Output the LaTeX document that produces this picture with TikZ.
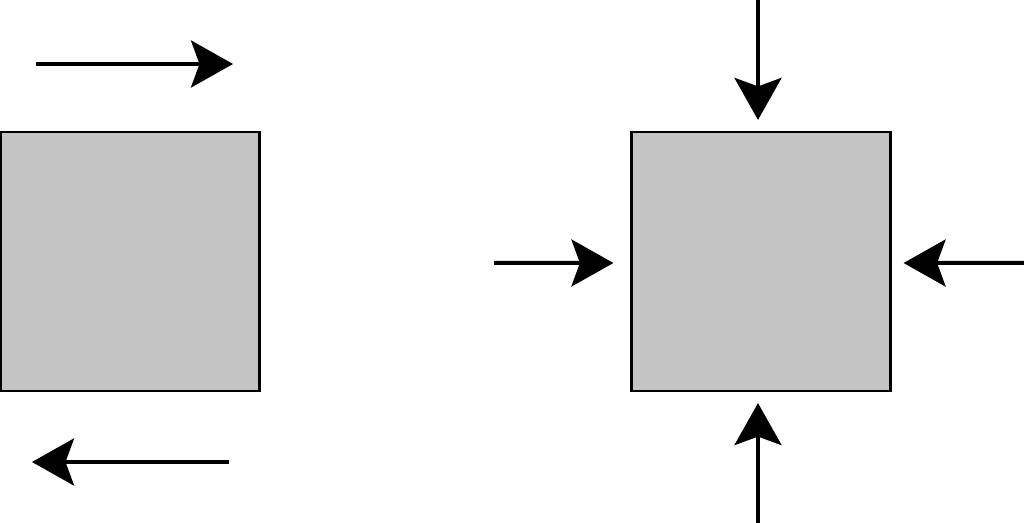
\documentclass[tikz,border=0pt]{standalone}
\usetikzlibrary{arrows.meta, positioning, calc}
\definecolor{BlockGray}{RGB}{196,196,196}

\begin{document}
\begin{tikzpicture}[x=0.02cm, y=-0.02cm,
    blockbox/.style={draw=black, fill=BlockGray, line width=0.045cm,
                     minimum width=5.18cm, minimum height=5.18cm, inner sep=0pt},
    force/.style={-{Stealth[length=0.84cm, width=0.94cm, inset=0.17cm]},
                  line width=0.08cm}]
      \useasboundingbox (0,0) rectangle (1024,523);

      % shear: block with opposite forces on top and bottom
      \node[blockbox] (shear) at (130,261.5) {};
      \coordinate (shearTopA) at (36,64);
      \coordinate (shearTopB) at (233,64);
      \coordinate (shearBotA) at (229,462);
      \coordinate (shearBotB) at (32,462);
      \draw[force] (shearTopA) -- (shearTopB);
      \draw[force] (shearBotA) -- (shearBotB);

      % compression: block pushed from all four sides
      \node[blockbox] (press) at (761,261.5) {};
      \coordinate (pressN) at (758,0);
      \coordinate (pressS) at (758,523);
      \coordinate (pressW) at (494,263);
      \coordinate (pressE) at (1024,263);
      \draw[force] (pressN) -- ($(press.north)+(-3,-11)$);
      \draw[force] (pressS) -- ($(press.south)+(-3,11)$);
      \draw[force] (pressW) -- ($(press.west)+(-17,1.5)$);
      \draw[force] (pressE) -- ($(press.east)+(12,1.5)$);

\end{tikzpicture}
\end{document}
